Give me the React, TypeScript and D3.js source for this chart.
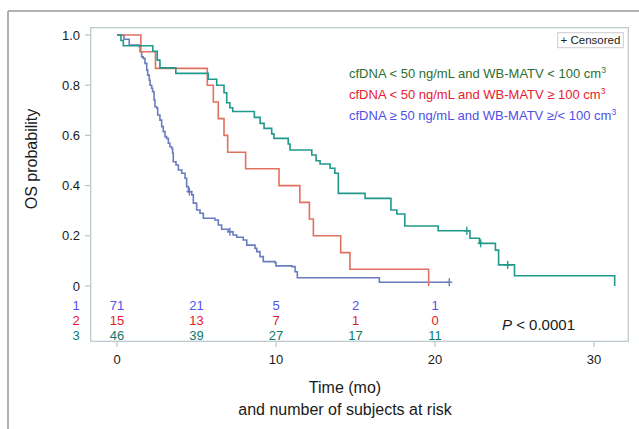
import React from 'react';
import * as d3 from 'd3';

// group 1: cfDNA >= 50 (blue)
const g1Time = [0, 0.44, 0.77, 1.4, 1.45, 1.55, 1.65, 1.76, 1.87, 1.93, 2.03, 2.08, 2.18, 2.24, 2.33, 2.39, 2.5, 2.56, 2.7, 2.81, 2.91, 3.02, 3.12, 3.23, 3.33, 3.44, 3.5, 3.54, 3.71, 3.86, 4.07, 4.28, 4.38, 4.49, 4.7, 4.8, 5.01, 5.22, 5.43, 6.16, 6.37, 6.58, 7.0, 7.3, 7.53, 7.94, 8.16, 8.68, 8.79, 8.99, 9.2, 9.94, 10.0, 10.99, 11.2, 11.34, 16.5, 20.9];
const g1Surv = [1, 0.983, 0.96, 0.953, 0.933, 0.913, 0.907, 0.887, 0.86, 0.84, 0.82, 0.8, 0.788, 0.774, 0.741, 0.714, 0.708, 0.681, 0.661, 0.635, 0.615, 0.595, 0.588, 0.569, 0.555, 0.548, 0.529, 0.495, 0.482, 0.462, 0.449, 0.429, 0.396, 0.376, 0.363, 0.33, 0.303, 0.29, 0.27, 0.263, 0.243, 0.226, 0.216, 0.203, 0.194, 0.183, 0.163, 0.15, 0.137, 0.117, 0.097, 0.093, 0.08, 0.077, 0.057, 0.033, 0.015, 0.015];
const g1Cens = [4.55, 7.1, 20.9];

// group 2: cfDNA < 50, MATV >= 100 (red)
const g2Time = [0, 1.5, 2.42, 5.68, 6.06, 6.37, 6.73, 6.96, 8.09, 10.19, 11.5, 12.1, 12.35, 14.07, 14.65, 19.6];
const g2Surv = [1, 0.933, 0.867, 0.8, 0.733, 0.667, 0.6, 0.533, 0.467, 0.4, 0.333, 0.267, 0.2, 0.133, 0.067, 0];

// group 3: cfDNA < 50, MATV < 100 (teal)
const g3Time = [0, 0.25, 0.4, 2.25, 2.53, 2.7, 3.7, 5.74, 6.27, 6.73, 6.9, 7.1, 7.28, 8.64, 9.0, 9.25, 9.73, 9.87, 10.77, 10.88, 12.25, 12.52, 12.77, 13.4, 13.7, 13.92, 15.6, 17.23, 17.6, 18.1, 20.2, 22.2, 22.8, 23.8, 24.0, 25.0, 31.3];
const g3Surv = [1, 0.978, 0.957, 0.935, 0.9, 0.869, 0.847, 0.824, 0.8, 0.77, 0.73, 0.71, 0.695, 0.672, 0.648, 0.628, 0.606, 0.588, 0.566, 0.542, 0.522, 0.499, 0.486, 0.469, 0.449, 0.369, 0.349, 0.303, 0.287, 0.239, 0.22, 0.19, 0.17, 0.143, 0.084, 0.041, 0];
const g3Cens = [22.0, 22.87, 24.57];

// number at risk
const riskTimes = [0, 5, 10, 15, 20];
const risk1 = [71, 21, 5, 2, 1];
const risk2 = [15, 13, 7, 1, 0];
const risk3 = [46, 39, 27, 17, 11];

const xTicks = [0, 10, 20, 30];
const yTicks = [0, 0.2, 0.4, 0.6, 0.8, 1.0];

const FONT = "'Liberation Sans', Arial, sans-serif";

const App = () => {
  const x = d3.scaleLinear().domain([0, 30]).range([117, 594]);
  const y = d3.scaleLinear().domain([0, 1]).range([286, 35]);

  const line = d3.line<[number, number]>()
    .x(d => x(d[0]))
    .y(d => y(d[1]))
    .curve(d3.curveStepAfter);

  // survival at time t (step function lookup)
  const survAt = (times: number[], surv: number[], t: number) => {
    const i = d3.bisectRight(times, t) - 1;
    return surv[Math.max(0, i)];
  };

  const groups = [
    { times: g1Time, surv: g1Surv, cens: g1Cens, color: '#6a7cc0' },
    { times: g2Time, surv: g2Surv, cens: [] as number[], color: '#e2705f' },
    { times: g3Time, surv: g3Surv, cens: g3Cens, color: '#1f9a8a' },
  ];

  const riskRows = [
    { label: '1', vals: risk1, color: '#5252ee', y: 309.5 },
    { label: '2', vals: risk2, color: '#e6192b', y: 325 },
    { label: '3', vals: risk3, color: '#10796a', y: 340 },
  ];

  const frame = '#b8c6cb';

  return (
    <svg width={639} height={429} style={{ position: 'absolute', left: 0, top: 0, background: '#fff' }} fontFamily={FONT}>
      {/* outer figure border */}
      <line x1={8} y1={11} x2={639} y2={11} stroke="#999" strokeWidth={1.5} />
      <line x1={8} y1={11} x2={8} y2={429} stroke="#999" strokeWidth={1.5} />

      {/* plot frame */}
      <rect x={90.7} y={27.7} width={537.6} height={313.6} fill="none" stroke={frame} strokeWidth={1.2} />

      {yTicks.map(t => (
        <g key={'y' + t}>
          <line x1={85} x2={90.7} y1={y(t)} y2={y(t)} stroke={frame} strokeWidth={1.2} />
          <text x={80} y={y(t) + 4.5} textAnchor="end" fontSize={13} fill="#1a1a1a">
            {t === 0 ? '0' : t.toFixed(1)}
          </text>
        </g>
      ))}
      {xTicks.map(t => (
        <g key={'x' + t}>
          <line x1={x(t)} x2={x(t)} y1={341.3} y2={347} stroke={frame} strokeWidth={1.2} />
          <text x={x(t)} y={364} textAnchor="middle" fontSize={13} fill="#1a1a1a">{t}</text>
        </g>
      ))}

      {/* curves */}
      {groups.map((g, i) => (
        <g key={'g' + i}>
          <path
            d={line(g.times.map((t, j) => [t, g.surv[j]] as [number, number])) || ''}
            fill="none" stroke={g.color} strokeWidth={1.6}
          />
          {g.cens.map((c, k) => {
            const cx = x(c);
            const cy = y(survAt(g.times, g.surv, c));
            return (
              <g key={k} stroke={g.color} strokeWidth={1.4}>
                <line x1={cx} x2={cx} y1={cy - 4} y2={cy + 4} />
                <line x1={cx - 3} x2={cx + 3} y1={cy} y2={cy} />
              </g>
            );
          })}
        </g>
      ))}

      {/* censored key */}
      <rect x={557.7} y={32.7} width={65.6} height={15} fill="#fff" stroke="#ccc" strokeWidth={1} />
      <text x={590.5} y={44} textAnchor="middle" fontSize={11.5} fill="#222">+ Censored</text>

      {/* legend */}
      <text x={349} y={77.5} fontSize={13} fill="#2e6e2e">
        cfDNA &lt; 50 ng/mL and WB-MATV &lt; 100 cm<tspan fontSize={8.5} dy={-5}>3</tspan>
      </text>
      <text x={349} y={98.5} fontSize={13} fill="#e8202e">
        cfDNA &lt; 50 ng/mL and WB-MATV ≥ 100 cm<tspan fontSize={8.5} dy={-5}>3</tspan>
      </text>
      <text x={349} y={120} fontSize={13} fill="#4f4fe8">
        cfDNA ≥ 50 ng/mL and WB-MATV ≥/&lt; 100 cm<tspan fontSize={8.5} dy={-5}>3</tspan>
      </text>

      {/* risk table */}
      {riskRows.map(r => (
        <g key={r.label} fill={r.color} fontSize={13}>
          <text x={76} y={r.y} textAnchor="middle">{r.label}</text>
          {r.vals.map((v, j) => (
            <text key={j} x={x(riskTimes[j])} y={r.y} textAnchor="middle">{v}</text>
          ))}
        </g>
      ))}

      <text x={502} y={329.5} fontSize={15} fill="#1a1a1a">
        <tspan fontStyle="italic">P</tspan> &lt; 0.0001
      </text>

      {/* axis titles */}
      <text x={345} y={393} textAnchor="middle" fontSize={16} fill="#1a1a1a">Time (mo)</text>
      <text x={345} y={415} textAnchor="middle" fontSize={16} fill="#1a1a1a">and number of subjects at risk</text>
      <text transform="translate(37,159) rotate(-90)" textAnchor="middle" fontSize={16} fill="#1a1a1a">OS probability</text>
    </svg>
  );
};

export default App;
